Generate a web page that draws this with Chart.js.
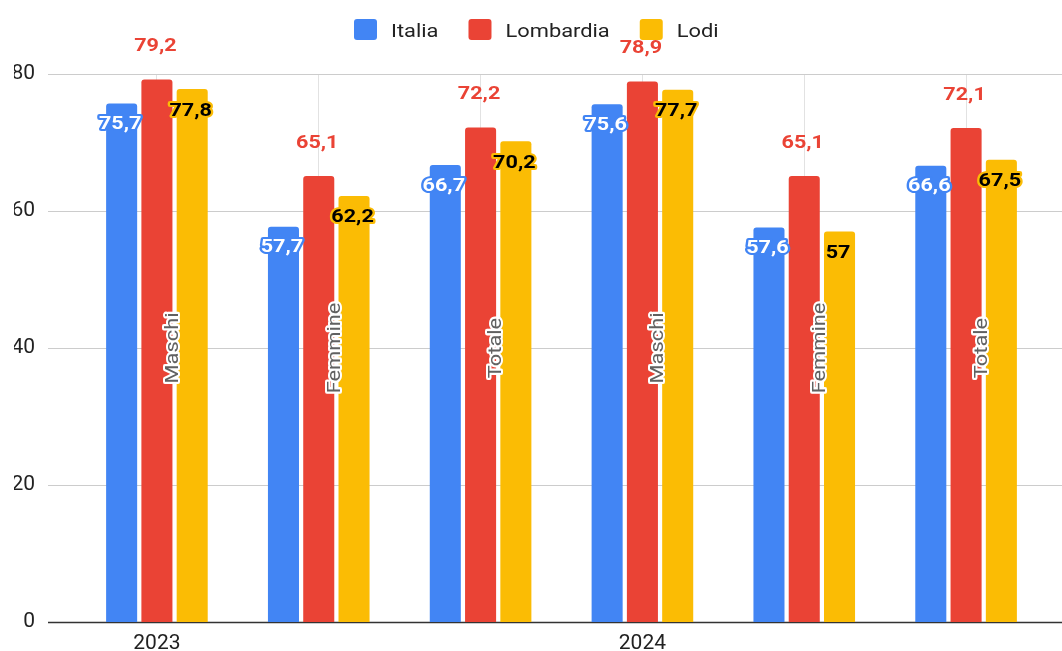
<!DOCTYPE html>
<html>
<head>
<meta charset="utf-8">
<script src="https://cdn.jsdelivr.net/npm/chart.js@4/dist/chart.umd.min.js"></script>
<style>
  body { margin: 0; background: #fff; }
  canvas { display: block; }
</style>
</head>
<body>
<canvas id="occupazione" width="1062" height="651"></canvas>
<script>
// categorie: anno x gruppo
const years = ['2023', '2024'];
const groups = ['Maschi', 'Femmine', 'Totale'];
const categories = ['2023 Maschi', '2023 Femmine', '2023 Totale', '2024 Maschi', '2024 Femmine', '2024 Totale'];

const seriesNames = ['Italia', 'Lombardia', 'Lodi'];
const italia = [75.7, 57.7, 66.7, 75.6, 57.6, 66.6];
const lombardia = [79.2, 65.1, 72.2, 78.9, 65.1, 72.1];
const lodi = [77.8, 62.2, 70.2, 77.7, 57, 67.5];

const yTicks = [0, 20, 40, 60, 80];

const colors = ['#4285F4', '#EA4335', '#FBBC04'];
const FONT = 'Roboto, Arial, sans-serif';

// text in the original is a bit wider than Roboto, so stretch it slightly
function drawText(ctx, txt, x, y, o) {
    ctx.save();
    ctx.translate(x, y);
    if (o.rotate) ctx.rotate(o.rotate);
    ctx.scale(o.sx || 1, 1);
    ctx.font = o.font;
    ctx.textAlign = o.align || 'center';
    ctx.textBaseline = o.baseline || 'middle';
    ctx.lineJoin = 'round';
    if (o.stroke) {
        ctx.strokeStyle = o.stroke;
        ctx.lineWidth = o.lw || 4;
        ctx.strokeText(txt, 0, 0);
    }
    ctx.fillStyle = o.fill;
    ctx.fillText(txt, 0, 0);
    ctx.restore();
}

// horizontal gridlines span the whole width, like the sheet export
const gridPlugin = {
    id: 'wideGrid',
    beforeDatasetsDraw(chart) {
        const ctx = chart.ctx;
        const y = chart.scales.y;
        ctx.save();
        yTicks.forEach(t => {
            const py = Math.round(y.getPixelForValue(t)) + 0.5;
            ctx.beginPath();
            if (t === 0) {
                ctx.strokeStyle = '#333';
                ctx.lineWidth = 1.5;
            } else {
                ctx.strokeStyle = '#cccccc';
                ctx.lineWidth = 1;
            }
            ctx.moveTo(48, py);
            ctx.lineTo(1062, py);
            ctx.stroke();
        });
        ctx.restore();
    }
};

const labelStyles = [
    { dx: -1.5, dy: 21, fill: '#ffffff', stroke: '#4285F4' },
    { dx: -1.5, dy: -33, fill: '#EA4335', stroke: null },
    { dx: -1.5, dy: 22, fill: '#000000', stroke: '#FBBC04' }
];

const labelPlugin = {
    id: 'barLabels',
    afterDatasetsDraw(chart) {
        const ctx = chart.ctx;
        const area = chart.chartArea;
        const xs = chart.scales.x;

        // group names, vertical
        categories.forEach((c, i) => {
            drawText(ctx, groups[i % 3], xs.getPixelForValue(i) + 16, (area.top + area.bottom) / 2, {
                font: '19px ' + FONT, sx: 1.15, rotate: -Math.PI / 2,
                fill: '#616161', stroke: '#ffffff', lw: 4
            });
        });

        chart.data.datasets.forEach((ds, di) => {
            const meta = chart.getDatasetMeta(di);
            const st = labelStyles[di];
            meta.data.forEach((bar, i) => {
                const txt = String(ds.data[i]).replace('.', ',');
                drawText(ctx, txt, bar.x + st.dx, bar.y + st.dy, {
                    font: 'bold 18px ' + FONT, sx: 1.2,
                    fill: st.fill, stroke: st.stroke, lw: 4
                });
            });
        });
    }
};

// legend drawn at top centre
const legendPlugin = {
    id: 'topLegend',
    afterDraw(chart) {
        const ctx = chart.ctx;
        let x = 354;
        seriesNames.forEach((name, i) => {
            ctx.save();
            ctx.fillStyle = colors[i];
            ctx.beginPath();
            ctx.roundRect(x, 19, 23, 21, 3);
            ctx.fill();
            ctx.font = '19px ' + FONT;
            const w = ctx.measureText(name).width * 1.15;
            ctx.restore();
            x += 23 + 14;
            drawText(ctx, name, x, 36.5, {
                font: '19px ' + FONT, sx: 1.15, align: 'left', baseline: 'alphabetic', fill: '#222'
            });
            x += w + 30;
        });
    }
};

const ctx = document.getElementById('occupazione').getContext('2d');
new Chart(ctx, {
    type: 'bar',
    data: {
        labels: categories,
        datasets: [
            { label: seriesNames[0], data: italia, backgroundColor: colors[0] },
            { label: seriesNames[1], data: lombardia, backgroundColor: colors[1] },
            { label: seriesNames[2], data: lodi, backgroundColor: colors[2] }
        ]
    },
    options: {
        responsive: false,
        animation: false,
        devicePixelRatio: 1,
        layout: { padding: { left: 14, right: 15, top: 74, bottom: 0 } },
        datasets: {
            bar: {
                categoryPercentage: 0.654,
                barPercentage: 0.88,
                borderRadius: { topLeft: 3, topRight: 3 },
                borderSkipped: 'bottom'
            }
        },
        scales: {
            x: {
                afterFit(scale) { scale.height = 29; },
                grid: { display: true, offset: false, color: '#e2e2e2', drawTicks: false },
                border: { display: false },
                ticks: {
                    autoSkip: false,
                    maxRotation: 0,
                    padding: 9,
                    color: '#222',
                    font: { family: FONT, size: 21 },
                    callback: (v, i) => (i % 3 === 0 ? years[i / 3] : '')
                }
            },
            y: {
                min: 0,
                max: 80,
                afterFit(scale) { scale.width = 62; },
                // invisible tick marks give the gap between labels and plot
                grid: { display: false, drawTicks: true, tickLength: 39 },
                border: { display: false },
                ticks: {
                    stepSize: 20,
                    padding: 2,
                    color: '#222',
                    font: { family: FONT, size: 21 }
                }
            }
        },
        plugins: {
            legend: { display: false },
            tooltip: { enabled: false }
        }
    },
    plugins: [gridPlugin, labelPlugin, legendPlugin]
});
</script>
</body>
</html>
